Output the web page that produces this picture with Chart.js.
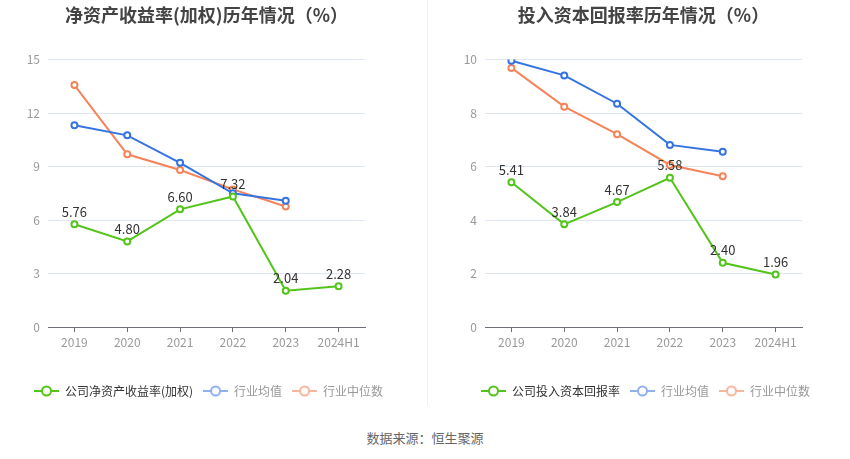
<!DOCTYPE html>
<html>
<head>
<meta charset="utf-8">
<script src="https://cdn.jsdelivr.net/npm/chart.js@4.4.1/dist/chart.umd.min.js"></script>
<style>
  html, body { margin:0; padding:0; background:#fff; }
  #wrap { position:relative; width:850px; height:459px; overflow:hidden; font-family:"Noto Sans CJK SC", "Noto Sans", sans-serif; }
  .cv { position:absolute; top:0; width:425px; height:410px; }
  #divider { position:absolute; left:427px; top:0; width:1px; height:405px; background:#f0f0f0; }
  #source { position:absolute; left:0; width:850px; top:428px; text-align:center; font-size:13px; color:#666; }
</style>
</head>
<body>
<div id="wrap">
  <div class="cv" style="left:0"><canvas id="c1" width="425" height="410"></canvas></div>
  <div id="divider"></div>
  <div class="cv" style="left:425px"><canvas id="c2" width="425" height="410"></canvas></div>
  <div id="source">数据来源：恒生聚源</div>
</div>
<script>
// ---- data ----
const categories = ['2019', '2020', '2021', '2022', '2023', '2024H1'];

const roeTitle = '净资产收益率(加权)历年情况（%）';
const roeCompanyLabel = '公司净资产收益率(加权)';
const roeCompany = [5.76, 4.80, 6.60, 7.32, 2.04, 2.28];
const roeIndustryAvg = [11.32, 10.75, 9.21, 7.50, 7.08, null];
const roeIndustryMedian = [13.57, 9.69, 8.81, 7.72, 6.76, null];
const roeTicks = { max: 15, step: 3 };

const roicTitle = '投入资本回报率历年情况（%）';
const roicCompanyLabel = '公司投入资本回报率';
const roicCompany = [5.41, 3.84, 4.67, 5.58, 2.40, 1.96];
const roicIndustryAvg = [9.96, 9.41, 8.35, 6.81, 6.55, null];
const roicIndustryMedian = [9.69, 8.24, 7.21, 6.06, 5.64, null];
const roicTicks = { max: 10, step: 2 };

const avgLabel = '行业均值';
const medianLabel = '行业中位数';

// ---- style ----
const GREEN = '#52c41a';
const BLUE = '#3574e0';
const ORANGE = '#f5845a';
const FONT = '"Noto Sans CJK SC", "Noto Sans", sans-serif';

function legendIcon(color) {
  const c = document.createElement('canvas');
  c.width = 25; c.height = 12;
  const g = c.getContext('2d');
  g.strokeStyle = color; g.lineWidth = 2;
  g.beginPath(); g.moveTo(0, 6); g.lineTo(25, 6); g.stroke();
  g.fillStyle = '#fff';
  g.beginPath(); g.arc(12.5, 6, 4.5, 0, Math.PI * 2); g.fill(); g.stroke();
  return c;
}

const valueLabels = {
  id: 'valueLabels',
  afterDatasetsDraw(chart) {
    const ctx = chart.ctx;
    const meta = chart.getDatasetMeta(0);
    const data = chart.data.datasets[0].data;
    ctx.save();
    ctx.font = '13px ' + FONT;
    ctx.fillStyle = '#333';
    ctx.textAlign = 'center';
    ctx.textBaseline = 'bottom';
    meta.data.forEach((pt, i) => {
      if (data[i] == null) return;
      ctx.fillText(data[i].toFixed(2), pt.x, pt.y - 6);
    });
    ctx.restore();
  }
};

function makeChart(id, title, compLabel, comp, avg, med, ticks, lay) {
  const icons = [legendIcon(GREEN), legendIcon('#8fb1f0'), legendIcon('#f9b69c')];
  const fontColors = ['#333', '#999', '#999'];
  const ds = (label, data, color) => ({
    label, data, borderColor: color, backgroundColor: '#fff',
    borderWidth: 2, pointRadius: 3, pointBorderWidth: 2, pointHoverRadius: 3,
    pointBackgroundColor: '#fff', pointBorderColor: color, tension: 0, spanGaps: false
  });
  return new Chart(document.getElementById(id), {
    type: 'line',
    data: {
      labels: categories,
      datasets: [
        ds(compLabel, comp, GREEN),
        ds(avgLabel, avg, BLUE),
        ds(medianLabel, med, ORANGE)
      ]
    },
    options: {
      responsive: false,
      animation: false,
      events: [],
      layout: { padding: { left: lay.padLeft, right: lay.padRight, top: 0, bottom: 3 } },
      plugins: {
        title: {
          display: true, text: title, fullSize: false,
          color: '#444', font: { family: FONT, size: 18, weight: 'bold' },
          padding: { top: 4, bottom: 34 }
        },
        legend: {
          display: true, position: 'bottom', fullSize: true, align: lay.legendAlign,
          labels: {
            usePointStyle: true, pointStyleWidth: 25, padding: 10,
            font: { family: FONT, size: 12 },
            generateLabels(chart) {
              return chart.data.datasets.map((d, i) => ({
                text: d.label, pointStyle: icons[i], fontColor: fontColors[i],
                fillStyle: '#fff', strokeStyle: d.borderColor, lineWidth: 0,
                hidden: false, datasetIndex: i
              }));
            }
          }
        },
        tooltip: { enabled: false }
      },
      scales: {
        x: {
          offset: true,
          grid: { display: true, drawOnChartArea: false, drawTicks: true, tickLength: 5, color: '#6e7079', offset: false },
          border: { display: true, color: '#6e7079' },
          ticks: { color: '#999', font: { family: FONT, size: 12 }, padding: 3 },
          afterFit(s) { s.height = 48; }
        },
        y: {
          min: 0, max: ticks.max,
          grid: { color: '#e0e6f1', drawTicks: false },
          border: { display: false },
          ticks: { stepSize: ticks.step, color: '#999', font: { family: FONT, size: 12 }, padding: 8 },
          afterFit(s) { s.width = lay.yWidth; }
        },
        yR: {
          position: 'right', min: 0, max: ticks.max,
          grid: { display: false }, border: { display: false },
          ticks: { display: false },
          afterFit(s) { s.width = lay.rightWidth; }
        }
      }
    },
    plugins: [valueLabels]
  });
}

makeChart('c1', roeTitle, roeCompanyLabel, roeCompany, roeIndustryAvg, roeIndustryMedian, roeTicks,
  { padLeft: 24, padRight: 0, yWidth: 24, rightWidth: 60, legendAlign: 'start' });
makeChart('c2', roicTitle, roicCompanyLabel, roicCompany, roicIndustryAvg, roicIndustryMedian, roicTicks,
  { padLeft: 36, padRight: 20, yWidth: 24, rightWidth: 28, legendAlign: 'center' });
</script>
</body>
</html>
